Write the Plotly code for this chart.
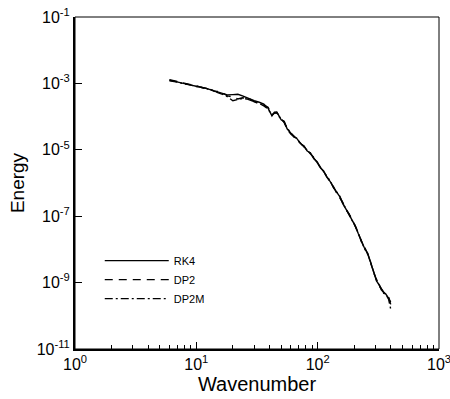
import plotly.graph_objects as go

# Wavenumbers (shared by the three series)
wavenumber = [6, 7, 8, 9, 10, 11, 12, 13, 14, 15, 16, 17, 18, 20, 22, 24, 26, 28, 30,
              33, 36, 39, 42, 44, 46, 48, 50, 53, 56, 60, 64, 68, 72, 77, 82, 87, 93,
              99, 105, 112, 119, 127, 135, 143, 152, 161, 171, 181, 192, 204, 216, 229,
              243, 258, 273, 289, 306, 324, 343, 363, 384, 400]

energy_rk4 = [1.25e-3, 1.08e-3, 9.8e-4, 8.9e-4, 8.2e-4, 7.7e-4, 7.1e-4, 6.5e-4, 6.0e-4, 5.6e-4,
              5.2e-4, 4.8e-4, 4.5e-4, 4.6e-4, 4.7e-4, 4.2e-4, 3.7e-4, 3.3e-4, 3.0e-4,
              2.7e-4, 2.4e-4, 1.8e-4, 1.05e-4, 1.35e-4, 1.38e-4, 1.05e-4, 8.0e-5, 7.2e-5, 4.3e-5,
              3.2e-5, 2.6e-5, 2.1e-5, 1.55e-5, 1.3e-5, 9.2e-6, 8.2e-6, 5.4e-6,
              4.4e-6, 2.9e-6, 2.3e-6, 1.5e-6, 1.1e-6, 7.4e-7, 5.4e-7, 3.9e-7, 2.4e-7, 1.7e-7,
              1.15e-7, 7.6e-8, 5.2e-8, 3.0e-8, 1.8e-8, 1.1e-8, 7.8e-9, 3.8e-9, 2.1e-9,
              1.1e-9, 8.2e-10, 5.4e-10, 4.6e-10, 3.4e-10, 2.6e-10]

energy_dp2 = [1.30e-3, 1.12e-3, 1.01e-3, 9.1e-4, 8.4e-4, 7.5e-4, 6.9e-4, 6.6e-4, 5.8e-4, 5.7e-4,
              5.0e-4, 4.8e-4, 4.2e-4, 3.9e-4, 3.4e-4, 3.7e-4, 3.5e-4, 3.3e-4, 2.8e-4,
              2.5e-4, 2.2e-4, 1.9e-4, 1.15e-4, 1.25e-4, 1.30e-4, 1.10e-4, 8.4e-5, 6.8e-5, 4.1e-5,
              3.0e-5, 2.5e-5, 2.0e-5, 1.6e-5, 1.2e-5, 9.8e-6, 7.6e-6, 5.8e-6,
              4.1e-6, 3.1e-6, 2.1e-6, 1.6e-6, 1.05e-6, 7.8e-7, 5.0e-7, 3.6e-7, 2.6e-7, 1.6e-7,
              1.2e-7, 8.0e-8, 4.8e-8, 3.2e-8, 1.7e-8, 1.2e-8, 7.2e-9, 4.2e-9, 2.0e-9,
              1.2e-9, 7.6e-10, 5.8e-10, 4.2e-10, 3.7e-10, 2.2e-10]

energy_dp2m = [1.20e-3, 1.10e-3, 9.6e-4, 9.0e-4, 8.0e-4, 7.6e-4, 7.2e-4, 6.3e-4, 6.1e-4, 5.3e-4,
               5.0e-4, 4.5e-4, 4.0e-4, 3.0e-4, 3.3e-4, 3.5e-4, 3.4e-4, 3.1e-4, 2.7e-4,
               2.5e-4, 2.1e-4, 1.7e-4, 1.10e-4, 1.30e-4, 1.32e-4, 1.00e-4, 8.8e-5, 6.6e-5, 4.5e-5,
               3.3e-5, 2.4e-5, 2.2e-5, 1.5e-5, 1.3e-5, 9.4e-6, 7.9e-6, 5.6e-6,
               4.3e-6, 3.0e-6, 2.2e-6, 1.55e-6, 1.15e-6, 7.2e-7, 5.2e-7, 4.0e-7, 2.5e-7, 1.65e-7,
               1.1e-7, 7.8e-8, 5.0e-8, 3.1e-8, 1.9e-8, 1.05e-8, 7.5e-9, 4.0e-9, 2.2e-9,
               1.15e-9, 7.9e-10, 5.0e-10, 4.4e-10, 3.2e-10, 1.6e-10]

# Tick values and labels
x_tickvals = [1, 10, 100, 1000]
x_ticktext = ["10<sup>0</sup>", "10<sup>1</sup>", "10<sup>2</sup>", "10<sup>3</sup>"]
x_minorvals = [2, 3, 4, 5, 6, 7, 8, 9, 20, 30, 40, 50, 60, 70, 80, 90,
               200, 300, 400, 500, 600, 700, 800, 900]
y_tickvals = [1e-11, 1e-9, 1e-7, 1e-5, 1e-3, 1e-1]
y_ticktext = ["10<sup>-11</sup>", "10<sup>-9</sup>", "10<sup>-7</sup>",
              "10<sup>-5</sup>", "10<sup>-3</sup>", "10<sup>-1</sup>"]

series = [("RK4", energy_rk4, "solid"),
          ("DP2", energy_dp2, "8px,6px"),
          ("DP2M", energy_dp2m, "8px,3px,2px,3px")]

font = "Liberation Sans, Arial, Helvetica, sans-serif"

fig = go.Figure()
for name, ys, dash in series:
    fig.add_trace(go.Scatter(x=wavenumber, y=ys, mode="lines", name=name,
                             line=dict(color="black", width=1.4, dash=dash)))

fig.update_layout(
    width=450, height=399,
    margin=dict(l=75, r=11, t=17, b=50, autoexpand=False),
    paper_bgcolor="white", plot_bgcolor="white",
    font=dict(family=font, color="black", size=16),
    showlegend=True,
    legend=dict(x=0.068, y=0.31, xanchor="left", yanchor="top",
                bgcolor="rgba(0,0,0,0)", font=dict(size=11),
                tracegroupgap=0, itemwidth=64),
    shapes=[dict(type="rect", xref="paper", yref="paper", x0=0, y0=0, x1=1, y1=1,
                 line=dict(color="black", width=1))],
)

fig.update_xaxes(
    type="log", range=[0, 3], tickmode="array", tickvals=x_tickvals, ticktext=x_ticktext,
    showgrid=False, zeroline=False, ticklabeloverflow="allow", automargin=False,
    showline=True, linecolor="black", linewidth=2,
    ticks="inside", ticklen=7, tickwidth=1.3, tickcolor="black",
    tickfont=dict(size=16),
    minor=dict(tickmode="array", tickvals=x_minorvals, ticks="inside", ticklen=4,
               tickwidth=1, tickcolor="black", showgrid=False),
    title=dict(text="Wavenumber", font=dict(size=20), standoff=4),
)
fig.update_yaxes(
    type="log", range=[-11, -1], tickmode="array", tickvals=y_tickvals, ticktext=y_ticktext,
    showgrid=False, zeroline=False, ticklabeloverflow="allow", automargin=False,
    showline=True, linecolor="black", linewidth=2,
    ticks="inside", ticklen=7, tickwidth=1.3, tickcolor="black",
    tickfont=dict(size=16),
    title=dict(text="Energy", font=dict(size=19), standoff=7),
)

fig.write_html("out.html")
